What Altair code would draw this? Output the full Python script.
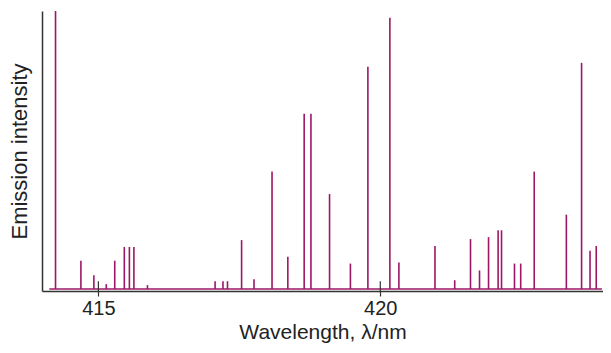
import altair as alt
import pandas as pd

wavelengths = [414.24, 414.69, 414.92, 415.14, 415.29, 415.46, 415.55, 415.63, 415.87,
               417.07, 417.21, 417.29, 417.54, 417.76, 418.08, 418.36, 418.65, 418.77,
               419.10, 419.47, 419.78, 420.17, 420.33, 420.97, 421.32, 421.60, 421.76,
               421.92, 422.09, 422.15, 422.38, 422.49, 422.73, 423.30, 423.57, 423.72, 423.83]
intensities = [284, 29, 14, 5, 29, 43, 43, 43, 4,
               8, 8, 8, 50, 10, 120, 33, 179, 179,
               97, 26, 227, 277, 27, 44, 9, 51, 19,
               53, 60, 60, 26, 26, 120, 76, 231, 39, 44]
baseline_range = [414.13, 423.93]
tick_values = [415, 420]

X_DOMAIN = [414.0, 423.95]
Y_DOMAIN = [-2, 284]
LINE_COLOR = "#9c1766"
TEXT_COLOR = "#222222"
AXIS_COLOR = "#333333"

lines_df = pd.DataFrame({"wl": wavelengths, "intensity": intensities, "zero": [0] * len(wavelengths)})
base_df = pd.DataFrame({"x": [baseline_range[0]], "x2": [baseline_range[1]], "y": [0]})
ticks_df = pd.DataFrame({"wl": tick_values, "y0": [-2] * len(tick_values), "y1": [8] * len(tick_values)})

xscale = alt.Scale(domain=X_DOMAIN, nice=False, zero=False)
yscale = alt.Scale(domain=Y_DOMAIN, nice=False, zero=False)

lines = alt.Chart(lines_df).mark_rule(color=LINE_COLOR, strokeWidth=1.6).encode(
    x=alt.X("wl:Q", scale=xscale,
            axis=alt.Axis(title="Wavelength, λ/nm", values=tick_values, format="d",
                          grid=False, tickSize=5, labelPadding=2, titlePadding=3,
                          domainColor=AXIS_COLOR, tickColor=AXIS_COLOR, domainWidth=1.5,
                          tickWidth=1.2, labelColor=TEXT_COLOR, titleColor=TEXT_COLOR,
                          labelFontSize=20, titleFontSize=21, labelFont="Liberation Sans",
                          titleFont="Liberation Sans", titleFontWeight="normal")),
    y=alt.Y("zero:Q", scale=yscale,
            axis=alt.Axis(title="Emission intensity", labels=False, ticks=False, grid=False,
                          domainColor=AXIS_COLOR, domainWidth=1.5, titleColor=TEXT_COLOR,
                          titleFontSize=22, titleFont="Liberation Sans",
                          titleFontWeight="normal", titlePadding=11)),
    y2="intensity:Q",
)

baseline = alt.Chart(base_df).mark_rule(color=LINE_COLOR, strokeWidth=1.6).encode(
    x=alt.X("x:Q", scale=xscale), x2="x2:Q", y=alt.Y("y:Q", scale=yscale)
)

ticks = alt.Chart(ticks_df).mark_rule(color=AXIS_COLOR, strokeWidth=1.2).encode(
    x=alt.X("wl:Q", scale=xscale), y=alt.Y("y0:Q", scale=yscale), y2="y1:Q"
)

chart = alt.layer(baseline, lines, ticks).properties(
    width=595, height=337,
    autosize=alt.AutoSizeParams(type="fit", contains="padding"),
    padding={"left": 0, "top": 2, "right": 0, "bottom": 3},
).configure(background="white").configure_view(stroke=None)

chart.save("out.html", embed_options={"renderer": "svg", "actions": False})
